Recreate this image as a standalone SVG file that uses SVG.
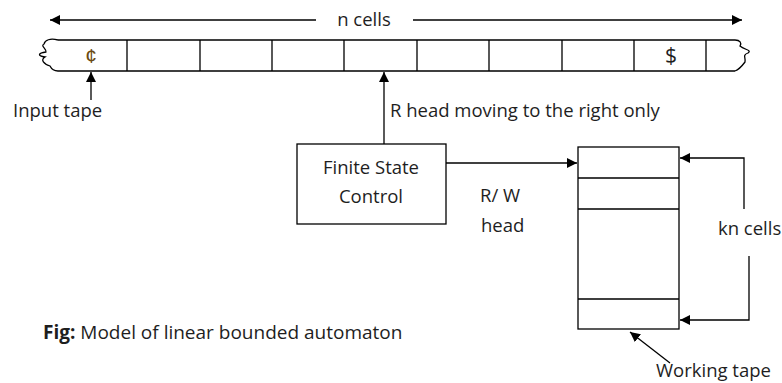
<svg xmlns="http://www.w3.org/2000/svg" width="782" height="383" viewBox="0 0 782 383">
<defs>
<marker id="ah" viewBox="0 0 10 10" refX="10" refY="5" markerWidth="10" markerHeight="10" markerUnits="userSpaceOnUse" orient="auto">
<path d="M0,0 L10,5 L0,10 z" fill="#000"/>
</marker>
<style>
.ln{stroke:#000;stroke-width:1.3;fill:none}
.bx{stroke:#000;stroke-width:1.3;fill:#fff}
.t{font-family:"Open Sans","Liberation Sans",sans-serif;font-size:18.5px;fill:#1e1e1e}
.c{text-anchor:middle}
.sym{font-size:21px}
</style>
</defs>
<rect width="782" height="383" fill="#fff"/>
<g id="input-tape">
<path class="ln" d="M58,40 H735 M58,71 H735"/>
<path class="ln" d="M127,40 V71 M200,40 V71 M272,40 V71 M344,40 V71 M417,40 V71 M489,40 V71 M562,40 V71 M634,40 V71 M706,40 V71"/>
<path class="ln" d="M58,40 C50,38 45,40 44,44 C40,46 47,49 46,52 C38,53 37,56 45,57 C40,60 44,64 50,66 C52,70 55,71 58,71"/>
<path class="ln" d="M735,40 C740,40 742,43 740,46 C745,50 752,50 748,53 C742,55 746,58 745,62 C742,66 738,70 735,71"/>
<text class="t c sym" x="91" y="63" style="font-family:'Liberation Sans',sans-serif;fill:#6b4a12">¢</text>
<text class="t c sym" x="671" y="63">$</text>
</g>
<g id="fsc">
<rect class="bx" x="297" y="144" width="149" height="80"/>
<text class="t c" x="371" y="174">Finite State</text>
<text class="t c" x="371" y="203">Control</text>
</g>
<g id="working-tape">
<rect class="bx" x="578" y="147" width="101" height="182"/>
<path class="ln" d="M578,178 H679 M578,209 H679 M578,299 H679"/>
</g>
<g id="connectors">
<line class="ln" x1="316" y1="20" x2="50" y2="20" marker-end="url(#ah)"/>
<line class="ln" x1="413" y1="20" x2="742" y2="20" marker-end="url(#ah)"/>
<line class="ln" x1="91" y1="100" x2="91" y2="72" marker-end="url(#ah)"/>
<line class="ln" x1="384" y1="144" x2="384" y2="72" marker-end="url(#ah)"/>
<line class="ln" x1="446" y1="163" x2="577" y2="163" marker-end="url(#ah)"/>
<polyline class="ln" points="744,209 744,158 680,158" marker-end="url(#ah)"/>
<polyline class="ln" points="749,256 749,320 680,320" marker-end="url(#ah)"/>
<line class="ln" x1="670" y1="363" x2="630" y2="332" marker-end="url(#ah)"/>
</g>
<g id="labels">
<text class="t c" x="364" y="26">n cells</text>
<text class="t" x="13" y="117">Input tape</text>
<text class="t" x="390" y="117">R head moving to the right only</text>
<text class="t" x="480" y="202">R/ W</text>
<text class="t" x="481" y="232">head</text>
<text class="t" x="718" y="235">kn cells</text>
<text class="t" x="656" y="377">Working tape</text>
<text class="t" x="43" y="339" style="font-size:19px"><tspan font-weight="bold">Fig:</tspan> Model of linear bounded automaton</text>
</g>
</svg>
